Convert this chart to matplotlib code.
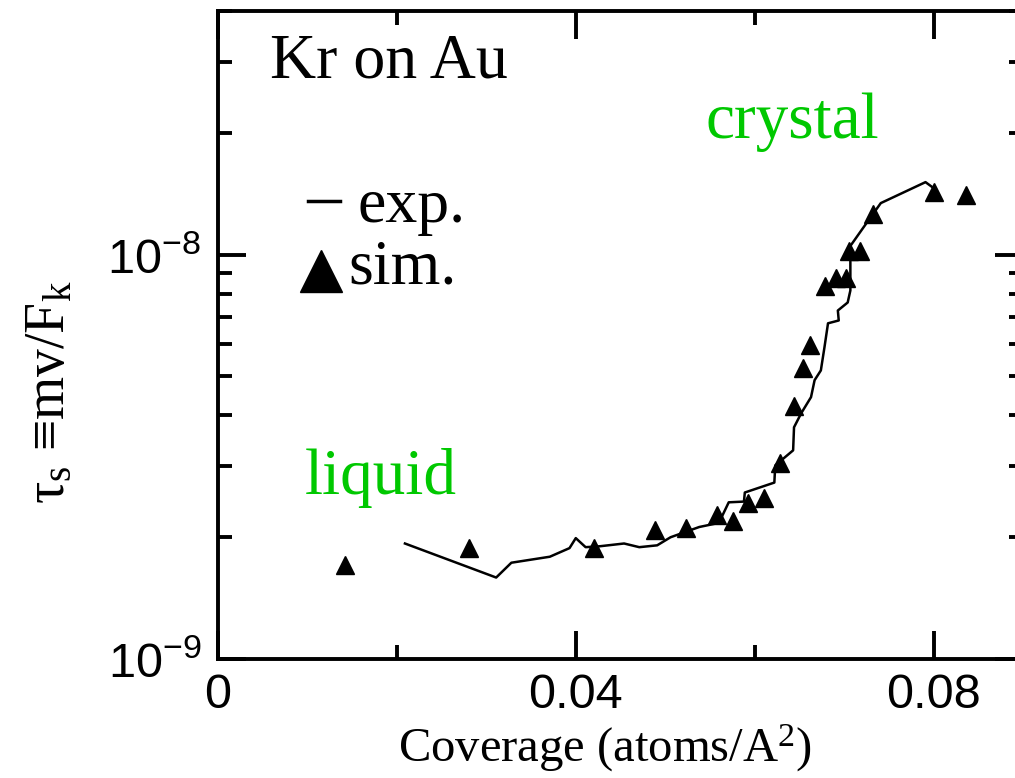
import matplotlib.pyplot as plt
from matplotlib.ticker import FixedLocator, FixedFormatter, LogLocator, NullFormatter

plt.rcParams['font.family'] = ['Liberation Serif', 'DejaVu Serif']
plt.rcParams['mathtext.fontset'] = 'custom'
plt.rcParams['mathtext.rm'] = 'Liberation Serif'
plt.rcParams['mathtext.it'] = 'Liberation Serif:italic'
plt.rcParams['mathtext.sf'] = 'Liberation Sans'
plt.rcParams['mathtext.default'] = 'rm'

# simulation points (coverage, tau_s)
sim_x = [0.0142, 0.0281, 0.0420, 0.0489, 0.0523, 0.0558, 0.0576, 0.0593, 0.0610,
         0.0628, 0.0644, 0.0654, 0.0662, 0.0679, 0.0691, 0.0702, 0.0706, 0.0718,
         0.0732, 0.0800, 0.0836]
sim_y = [1.71e-9, 1.88e-9, 1.88e-9, 2.08e-9, 2.11e-9, 2.27e-9, 2.19e-9, 2.43e-9, 2.50e-9,
         3.05e-9, 4.21e-9, 5.23e-9, 5.96e-9, 8.38e-9, 8.77e-9, 8.77e-9, 1.02e-8, 1.02e-8,
         1.26e-8, 1.43e-8, 1.40e-8]

# experimental curve
exp_x = [0.0209, 0.0311, 0.0328, 0.0371, 0.0393, 0.0400, 0.0411, 0.0427, 0.0454, 0.0471,
         0.0491, 0.0506, 0.0538, 0.0560, 0.0571, 0.0588, 0.0589, 0.0622, 0.0623, 0.0643,
         0.0644, 0.0652, 0.0663, 0.0667, 0.0674, 0.0678, 0.0682, 0.0694, 0.0693, 0.0704,
         0.0707, 0.0707, 0.0722, 0.0741, 0.0791, 0.0800]
exp_y = [1.93e-9, 1.59e-9, 1.73e-9, 1.79e-9, 1.88e-9, 1.99e-9, 1.89e-9, 1.90e-9, 1.93e-9, 1.89e-9,
         1.91e-9, 2.00e-9, 2.12e-9, 2.17e-9, 2.44e-9, 2.45e-9, 2.58e-9, 2.73e-9, 3.01e-9, 3.28e-9,
         3.74e-9, 4.05e-9, 4.44e-9, 4.89e-9, 5.17e-9, 5.89e-9, 6.76e-9, 6.87e-9, 7.27e-9, 7.61e-9,
         8.15e-9, 1.05e-8, 1.17e-8, 1.34e-8, 1.51e-8, 1.46e-8]

x_ticks = [0, 0.04, 0.08]
x_labels = ['0', '0.04', '0.08']
y_ticks = [1e-9, 1e-8]
y_labels = [r'$\mathsf{10^{-9}}$', r'$\mathsf{10^{-8}}$']

W, H = 1015, 778
fig = plt.figure(figsize=(W / 100, H / 100), dpi=100)
ax = fig.add_axes([218 / W, 119 / H, (1023 - 218) / W, (659 - 11) / H])

ax.plot(exp_x, exp_y, color='black', lw=1.8)
ax.plot(sim_x, sim_y, linestyle='none', marker='^', ms=13, color='black')

ax.set_yscale('log')
ax.set_xlim(0, 0.09)
ax.set_ylim(1e-9, 4e-8)

ax.xaxis.set_major_locator(FixedLocator(x_ticks))
ax.xaxis.set_major_formatter(FixedFormatter(x_labels))
ax.xaxis.set_minor_locator(FixedLocator([0.02, 0.06]))
ax.yaxis.set_major_locator(FixedLocator(y_ticks))
ax.yaxis.set_major_formatter(FixedFormatter(y_labels))
ax.yaxis.set_minor_locator(LogLocator(base=10, subs=range(2, 10)))
ax.yaxis.set_minor_formatter(NullFormatter())

for s in ax.spines.values():
    s.set_linewidth(2.8)
ax.tick_params(which='both', direction='in', top=True, right=True, width=2.8)
ax.tick_params(which='major', length=20)
ax.tick_params(which='minor', length=10)
ax.tick_params(axis='both', which='major', labelsize=35)
for lab in ax.get_xticklabels() + ax.get_yticklabels():
    lab.set_fontfamily('Liberation Sans')
ax.tick_params(axis='x', pad=10)
ax.tick_params(axis='y', pad=12)

green = '#00c800'
# annotations
fig.text(270 / W, 1 - 62 / H, 'Kr on Au', fontsize=46, va='center', ha='left')
fig.text(705 / W, 1 - 122 / H, 'crystal', fontsize=47, va='center', ha='left', color=green)
fig.text(305 / W, 1 - 478 / H, 'liquid', fontsize=47, va='center', ha='left', color=green)

# hand-made legend
fig.lines.append(plt.Line2D([308 / W, 340 / W], [1 - 201 / H, 1 - 201 / H],
                            transform=fig.transFigure, color='black', lw=2.5))
fig.text(358 / W, 1 - 207 / H, 'exp.', fontsize=46, va='center', ha='left')
fig.lines.append(plt.Line2D([321 / W], [1 - 271 / H], transform=fig.transFigure,
                            marker='^', ms=30, color='black', linestyle='none'))
fig.text(348 / W, 1 - 268 / H, 'sim.', fontsize=46, va='center', ha='left')

fig.text(50 / W, 1 - 392 / H, 'τ$_{s}$ ≡mv/F$_{k}$', rotation=90, fontsize=40,
         va='center', ha='center')
fig.text(605 / W, 1 - 748 / H, 'Coverage (atoms/A$^{2}$)', fontsize=35, va='center', ha='center')

fig.savefig('out.png', dpi=100)
